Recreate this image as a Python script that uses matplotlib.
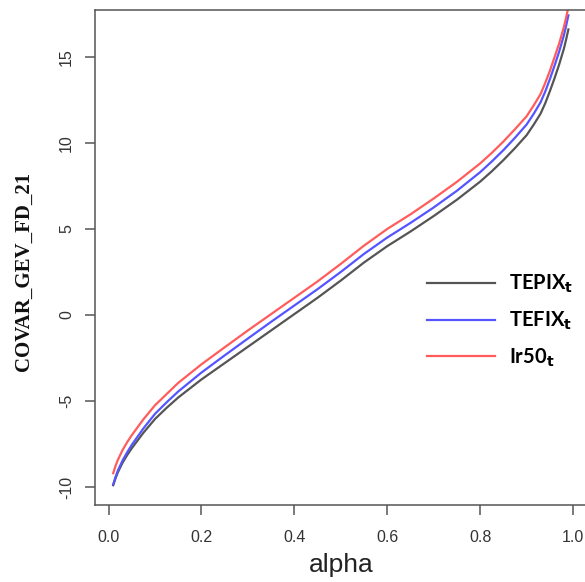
import matplotlib
matplotlib.use("Agg")
import matplotlib.pyplot as plt

# quantile levels
alpha = [0.01, 0.015, 0.02, 0.03, 0.04, 0.05, 0.075, 0.1, 0.125, 0.15, 0.2, 0.25, 0.3, 0.35,
         0.4, 0.45, 0.5, 0.55, 0.6, 0.65, 0.7, 0.75, 0.8, 0.825, 0.85, 0.875, 0.9, 0.915, 0.93,
         0.94, 0.95, 0.96, 0.97, 0.98, 0.985, 0.99]

# CoVaR values
tepix = [-9.9, -9.5, -9.15, -8.6, -8.15, -7.75, -6.85, -6.05, -5.4, -4.8, -3.75, -2.8, -1.85, -0.9,
         0.05, 1.0, 2.0, 3.05, 4.0, 4.85, 5.75, 6.7, 7.75, 8.35, 9.0, 9.7, 10.45, 11.05, 11.7,
         12.3, 13.0, 13.75, 14.55, 15.45, 16.0, 16.6]
tefix = [-9.85, -9.42, -9.05, -8.47, -7.99, -7.55, -6.6, -5.75, -5.08, -4.45, -3.35, -2.35, -1.37,
         -0.4, 0.55, 1.5, 2.5, 3.55, 4.5, 5.35, 6.25, 7.22, 8.3, 8.92, 9.58, 10.3, 11.07, 11.68,
         12.36, 12.98, 13.7, 14.48, 15.3, 16.23, 16.8, 17.42]
ir50 = [-9.2, -8.78, -8.43, -7.86, -7.4, -6.99, -6.07, -5.25, -4.6, -3.95, -2.87, -1.88, -0.9,
        0.05, 1.0, 1.95, 2.97, 4.03, 5.0, 5.85, 6.77, 7.74, 8.81, 9.42, 10.08, 10.8, 11.55, 12.17,
        12.84, 13.48, 14.18, 14.97, 15.77, 16.71, 17.28, 17.9]

labels = [r"TEPIX$_\mathbf{t}$", r"TEFIX$_\mathbf{t}$", r"Ir50$_\mathbf{t}$"]
colors = ["#555555", "#5555ff", "#ff5c5c"]
xticks = [0.0, 0.2, 0.4, 0.6, 0.8, 1.0]
yticks = [-10, -5, 0, 5, 10, 15]

plt.rcParams["font.family"] = ["Liberation Sans", "DejaVu Sans"]

fig = plt.figure(figsize=(5.85, 5.82), dpi=100)
# right edge of the box sits just past the image edge, as in the reference
ax = fig.add_axes([95 / 585, 1 - 505 / 582, 491.6 / 585, 495 / 582])

for y, c, lab in zip([tepix, tefix, ir50], colors, labels):
    ax.plot(alpha, y, color=c, lw=1.6, label=lab)

ax.set_xlim(-0.0292, 1.0292)
ax.set_ylim(-11.05, 17.73)
ax.set_xticks(xticks)
ax.set_xticklabels(["%.1f" % t for t in xticks])
ax.set_yticks(yticks)
ax.set_yticklabels([str(t) for t in yticks], rotation=90, va="center")

for s in ax.spines.values():
    s.set_color("#555555")
    s.set_linewidth(1.1)
ax.tick_params(axis="both", direction="out", length=7, width=1.1, color="#555555",
               labelsize=11.5, labelcolor="#333333")
ax.tick_params(axis="x", pad=11)
ax.tick_params(axis="y", pad=8)

ax.set_xlabel("alpha", fontsize=19, color="#222222", labelpad=6)
fig.text(0.04, 1 - 271 / 582, "COVAR_GEV_FD_21", rotation=90, ha="center", va="center",
         fontsize=15, fontweight="bold", family=["Liberation Serif", "DejaVu Serif"],
         color="#111111")

ax.legend(loc="center left", bbox_to_anchor=(0.675, 0.372), frameon=False,
          handlelength=3.4, handletextpad=0.7, labelspacing=0.72, borderpad=0,
          borderaxespad=0, prop={"family": ["Lato", "DejaVu Sans"], "weight": "bold",
                                 "size": 14.5})

fig.savefig("out.png", dpi=100)
